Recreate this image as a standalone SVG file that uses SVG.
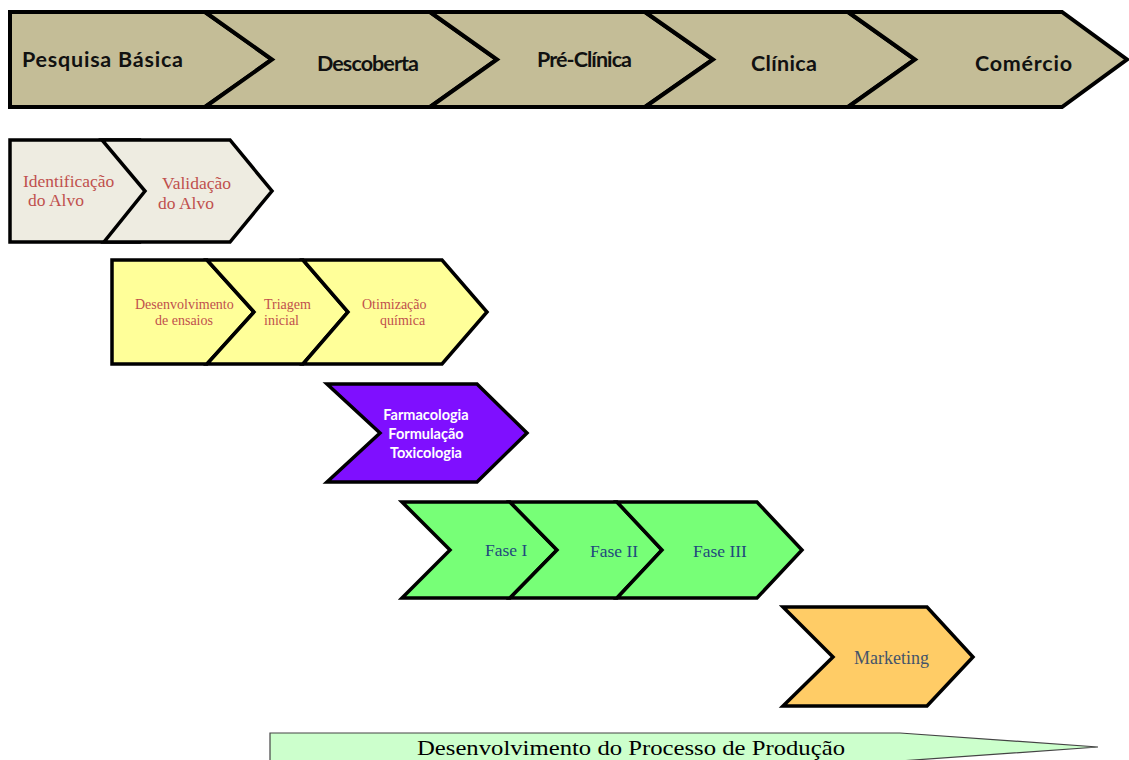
<svg xmlns="http://www.w3.org/2000/svg" width="1129" height="760" viewBox="0 0 1129 760">
<style>
.top{fill:#C4BD97;stroke:#000;stroke-width:4;stroke-linejoin:miter}
.gray{fill:#EEECE1;stroke:#000;stroke-width:3.5}
.yel{fill:#FFFF99;stroke:#000;stroke-width:3.5}
.pur{fill:#7F0FFF;stroke:#000;stroke-width:3.5}
.grn{fill:#77FF77;stroke:#000;stroke-width:3.5}
.org{fill:#FFCC66;stroke:#000;stroke-width:3.5}
.bar{fill:#CCFFCC;stroke:#444;stroke-width:1.2}
.tt{font-family:Lato,"Liberation Sans",sans-serif;font-weight:bold;fill:#111;font-size:21.5px}
.rs{font-family:"Liberation Serif",serif;fill:#C0504D}
.wt{font-family:Lato,"Liberation Sans",sans-serif;font-weight:bold;fill:#fff;font-size:14.5px}
.bl{font-family:"Liberation Serif",serif;fill:#1F497D;font-size:17.5px}
.mk{font-family:"Liberation Serif",serif;fill:#44546A;font-size:18px}
.bt{font-family:"Liberation Serif",serif;fill:#000;font-size:21px}
</style>
<rect width="1129" height="760" fill="#fff"/>
<g id="pesquisa-basica">
<polygon class="top" points="10,12 205,12 272,59.5 205,107 10,107"/>
<text class="tt" x="22" y="67" textLength="161">Pesquisa Básica</text>
</g>
<g id="descoberta">
<polygon class="top" points="205,12 430,12 497,59.5 430,107 205,107 272,59.5"/>
<text class="tt" x="317" y="71" font-size="19.5" textLength="102">Descoberta</text>
</g>
<g id="pre-clinica">
<polygon class="top" points="430,12 645,12 713,59.5 645,107 430,107 497,59.5"/>
<text class="tt" x="537" y="67" font-size="19.5" textLength="95">Pré-Clínica</text>
</g>
<g id="clinica">
<polygon class="top" points="645,12 848,12 915,59.5 848,107 645,107 713,59.5"/>
<text class="tt" x="751" y="71" textLength="66">Clínica</text>
</g>
<g id="comercio">
<polygon class="top" points="848,12 1062,12 1127,59.5 1062,107 848,107 915,59.5"/>
<text class="tt" x="975" y="71" textLength="97">Comércio</text>
</g>
<g id="identificacao">
<polygon class="gray" points="10,140 140,140 175,191 140,242 10,242"/>
<text class="rs" font-size="17.5" x="23" y="187">Identificação</text>
<text class="rs" font-size="17.5" x="28" y="206">do Alvo</text>
</g>
<g id="validacao">
<polygon class="gray" points="102,140 230,140 272,191 230,242 104,242 145,191"/>
<text class="rs" font-size="17.5" x="162" y="189">Validação</text>
<text class="rs" font-size="17.5" x="158" y="209">do Alvo</text>
</g>
<g id="desenvolvimento-ensaios">
<polygon class="yel" points="112,260 207,260 254,312 207,364 112,364"/>
<text class="rs" font-size="14" x="135" y="309">Desenvolvimento</text>
<text class="rs" font-size="14" x="155" y="325">de ensaios</text>
</g>
<g id="triagem">
<polygon class="yel" points="207,260 303,260 348,312 303,364 207,364 254,312"/>
<text class="rs" font-size="14" x="264" y="309">Triagem</text>
<text class="rs" font-size="14" x="264" y="325">inicial</text>
</g>
<g id="otimizacao">
<polygon class="yel" points="303,260 442,260 487,312 442,364 303,364 348,312"/>
<text class="rs" font-size="14" x="362" y="309">Otimização</text>
<text class="rs" font-size="14" x="380" y="325">química</text>
</g>
<g id="pre-clinica-detalhe">
<polygon class="pur" points="327,384 477,384 527,433 477,482 327,482 380,433"/>
<text class="wt" x="426" y="420" text-anchor="middle">Farmacologia</text>
<text class="wt" x="426" y="439" text-anchor="middle">Formulação</text>
<text class="wt" x="426" y="458" text-anchor="middle">Toxicologia</text>
</g>
<g id="fase-1">
<polygon class="grn" points="402,502 510,502 557,550 510,598 402,598 450,550"/>
<text class="bl" x="485" y="556">Fase I</text>
</g>
<g id="fase-2">
<polygon class="grn" points="510,502 617,502 662,550 617,598 510,598 557,550"/>
<text class="bl" x="590" y="557">Fase II</text>
</g>
<g id="fase-3">
<polygon class="grn" points="617,502 757,502 802,550 757,598 617,598 662,550"/>
<text class="bl" x="693" y="557">Fase III</text>
</g>
<g id="marketing">
<polygon class="org" points="783,607 927,607 973,657 927,706 783,706 833,657"/>
<text class="mk" x="854" y="664">Marketing</text>
</g>
<g id="processo-producao">
<polygon class="bar" points="270,733 900,733 1098,747 900,761 270,761"/>
<text class="bt" x="417" y="755" textLength="428" lengthAdjust="spacingAndGlyphs">Desenvolvimento do Processo de Produção</text>
</g>
</svg>
